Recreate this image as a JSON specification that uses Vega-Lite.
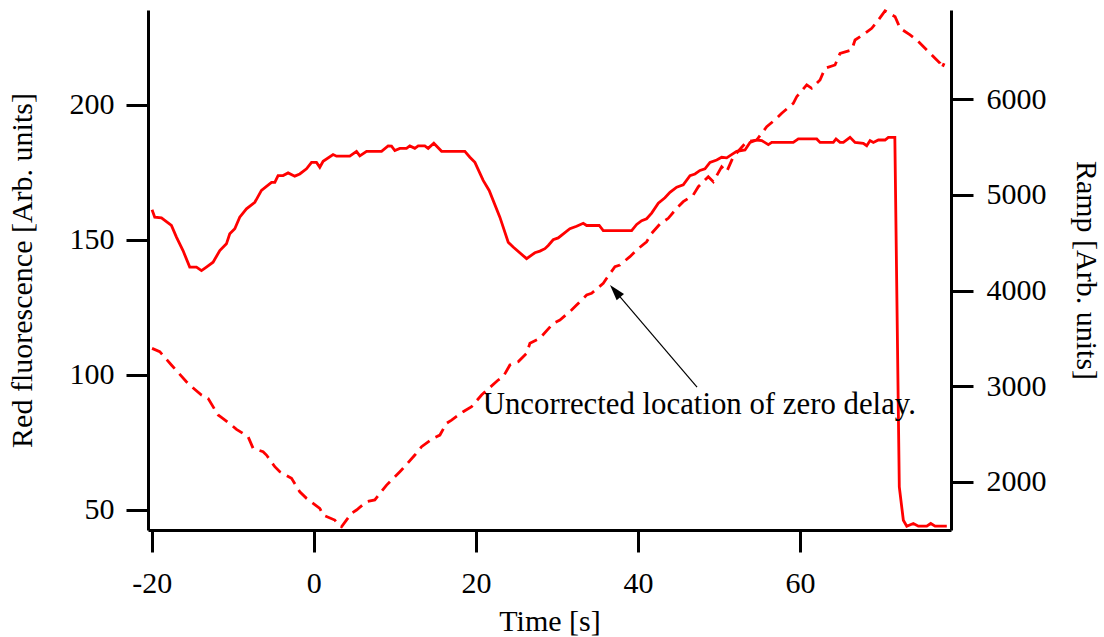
{
  "$schema": "https://vega.github.io/schema/vega-lite/v6.json",
  "width": 803,
  "height": 520,
  "autosize": {"type": "none"},
  "padding": {"left": 148, "top": 10, "right": 153, "bottom": 107},
  "background": "white",
  "config": {
    "font": "Liberation Serif",
    "view": {"stroke": null},
    "axis": {
      "domainColor": "black", "domainWidth": 3, "tickColor": "black", "tickWidth": 3, "tickSize": 22,
      "labelFontSize": 30, "titleFontSize": 30, "titleFontWeight": "normal",
      "labelColor": "black", "titleColor": "black", "grid": false,
      "labelFont": "Liberation Serif", "titleFont": "Liberation Serif", "labelFlush": false, "labelOverlap": false
    }
  },
  "datasets": {
    "fluor": [
      {"t":-19.96,"v":161.1},{"t":-19.63,"v":158.4},{"t":-18.8,"v":158.1},{"t":-17.57,"v":155.3},{"t":-16.95,"v":151.0},{"t":-16.14,"v":146.0},{"t":-15.31,"v":139.9},{"t":-14.48,"v":139.9},{"t":-13.86,"v":138.6},{"t":-13.25,"v":139.9},{"t":-12.43,"v":141.7},{"t":-11.6,"v":146.0},{"t":-10.78,"v":148.5},{"t":-10.37,"v":152.2},{"t":-9.75,"v":154.1},{"t":-9.14,"v":158.4},{"t":-8.31,"v":161.5},{"t":-7.28,"v":163.9},{"t":-6.46,"v":168.3},{"t":-5.22,"v":171.3},{"t":-4.81,"v":171.3},{"t":-4.41,"v":173.8},{"t":-3.79,"v":173.8},{"t":-3.17,"v":174.8},{"t":-2.35,"v":173.6},{"t":-1.73,"v":174.4},{"t":-0.9,"v":176.3},{"t":-0.28,"v":178.7},{"t":0.33,"v":178.7},{"t":0.74,"v":176.9},{"t":1.15,"v":179.1},{"t":2.38,"v":181.6},{"t":2.8,"v":181.0},{"t":4.44,"v":181.0},{"t":5.27,"v":182.8},{"t":5.68,"v":181.1},{"t":6.51,"v":182.8},{"t":8.36,"v":182.8},{"t":9.17,"v":184.8},{"t":9.59,"v":184.7},{"t":10.0,"v":183.1},{"t":10.62,"v":183.9},{"t":11.44,"v":183.9},{"t":11.85,"v":184.8},{"t":12.47,"v":183.9},{"t":12.88,"v":184.8},{"t":13.7,"v":184.8},{"t":14.11,"v":183.9},{"t":14.81,"v":185.8},{"t":15.77,"v":182.8},{"t":18.64,"v":182.8},{"t":19.26,"v":180.6},{"t":19.88,"v":178.7},{"t":20.9,"v":172.0},{"t":21.64,"v":168.3},{"t":22.96,"v":158.4},{"t":23.99,"v":149.1},{"t":24.6,"v":147.3},{"t":26.26,"v":143.0},{"t":27.28,"v":145.2},{"t":27.9,"v":145.8},{"t":28.52,"v":146.7},{"t":28.93,"v":147.9},{"t":29.54,"v":150.0},{"t":30.16,"v":150.7},{"t":31.6,"v":154.1},{"t":32.43,"v":155.0},{"t":33.25,"v":156.1},{"t":33.67,"v":155.3},{"t":35.22,"v":155.3},{"t":35.72,"v":153.4},{"t":39.22,"v":153.4},{"t":39.84,"v":155.7},{"t":40.46,"v":157.1},{"t":41.07,"v":157.8},{"t":41.69,"v":159.9},{"t":42.51,"v":163.6},{"t":43.33,"v":165.6},{"t":43.95,"v":167.6},{"t":44.78,"v":169.5},{"t":45.59,"v":170.4},{"t":46.42,"v":173.8},{"t":47.04,"v":174.4},{"t":47.65,"v":175.7},{"t":48.27,"v":176.3},{"t":48.89,"v":178.7},{"t":49.72,"v":179.6},{"t":50.33,"v":180.6},{"t":50.95,"v":180.4},{"t":51.36,"v":181.2},{"t":52.18,"v":182.8},{"t":53.21,"v":183.3},{"t":53.83,"v":186.1},{"t":54.65,"v":187.0},{"t":55.27,"v":186.8},{"t":56.09,"v":185.3},{"t":56.51,"v":186.1},{"t":59.17,"v":186.1},{"t":59.79,"v":187.4},{"t":62.06,"v":187.4},{"t":62.47,"v":186.1},{"t":64.11,"v":186.1},{"t":64.44,"v":187.4},{"t":64.94,"v":186.1},{"t":65.35,"v":186.1},{"t":66.17,"v":188.0},{"t":66.79,"v":186.1},{"t":67.81,"v":185.8},{"t":68.23,"v":184.9},{"t":68.64,"v":186.8},{"t":69.05,"v":186.1},{"t":69.67,"v":187.0},{"t":70.49,"v":187.0},{"t":70.9,"v":188.0},{"t":71.7,"v":188.0},{"t":72.25,"v":58.4},{"t":72.75,"v":46.0},{"t":73.17,"v":43.8},{"t":73.98,"v":44.8},{"t":74.6,"v":43.8},{"t":75.64,"v":43.8},{"t":76.13,"v":44.8},{"t":76.67,"v":43.8},{"t":78.11,"v":43.8}
    ],
    "ramp": [
      {"t":-19.96,"r":3395},{"t":-19.01,"r":3360},{"t":-17.57,"r":3221},{"t":-15.72,"r":3046},{"t":-15.31,"r":3011},{"t":-13.86,"r":2907},{"t":-13.05,"r":2872},{"t":-11.81,"r":2698},{"t":-11.4,"r":2674},{"t":-10.16,"r":2593},{"t":-9.54,"r":2548},{"t":-8.11,"r":2471},{"t":-7.49,"r":2349},{"t":-6.26,"r":2314},{"t":-5.84,"r":2279},{"t":-4.81,"r":2157},{"t":-4.2,"r":2105},{"t":-2.75,"r":2036},{"t":-1.73,"r":1895},{"t":-0.9,"r":1826},{"t":0.74,"r":1722},{"t":1.15,"r":1652},{"t":2.59,"r":1599},{"t":3.21,"r":1537},{"t":3.42,"r":1529},{"t":4.65,"r":1669},{"t":5.27,"r":1704},{"t":6.51,"r":1791},{"t":7.53,"r":1809},{"t":8.98,"r":1965},{"t":10.62,"r":2105},{"t":11.02,"r":2140},{"t":12.47,"r":2279},{"t":13.3,"r":2366},{"t":14.73,"r":2454},{"t":15.56,"r":2488},{"t":16.38,"r":2611},{"t":17.0,"r":2645},{"t":18.43,"r":2732},{"t":19.47,"r":2785},{"t":20.7,"r":2907},{"t":22.75,"r":3064},{"t":23.37,"r":3098},{"t":24.2,"r":3221},{"t":25.22,"r":3255},{"t":26.26,"r":3343},{"t":26.67,"r":3448},{"t":27.9,"r":3500},{"t":29.54,"r":3657},{"t":30.37,"r":3691},{"t":31.81,"r":3796},{"t":32.43,"r":3848},{"t":33.67,"r":3953},{"t":34.28,"r":3971},{"t":35.72,"r":4075},{"t":36.14,"r":4128},{"t":37.16,"r":4249},{"t":37.78,"r":4267},{"t":39.01,"r":4354},{"t":39.84,"r":4424},{"t":41.07,"r":4510},{"t":41.69,"r":4598},{"t":42.72,"r":4696},{"t":43.74,"r":4755},{"t":44.78,"r":4860},{"t":45.59,"r":4929},{"t":46.83,"r":5000},{"t":47.45,"r":5086},{"t":48.68,"r":5190},{"t":49.3,"r":5138},{"t":50.33,"r":5295},{"t":50.95,"r":5243},{"t":51.77,"r":5400},{"t":53.42,"r":5556},{"t":54.65,"r":5574},{"t":55.89,"r":5713},{"t":57.12,"r":5801},{"t":57.74,"r":5854},{"t":59.17,"r":5958},{"t":59.59,"r":6027},{"t":60.83,"r":6150},{"t":61.44,"r":6115},{"t":62.47,"r":6202},{"t":63.09,"r":6324},{"t":64.32,"r":6359},{"t":64.94,"r":6481},{"t":66.38,"r":6516},{"t":66.79,"r":6620},{"t":68.02,"r":6690},{"t":68.85,"r":6743},{"t":69.67,"r":6830},{"t":70.49,"r":6925},{"t":71.73,"r":6864},{"t":72.35,"r":6743},{"t":73.58,"r":6673},{"t":74.41,"r":6620},{"t":75.64,"r":6516},{"t":76.26,"r":6463},{"t":77.28,"r":6377},{"t":77.49,"r":6324},{"t":77.78,"r":6377}
    ],
    "arrow": [{"t": 47.29, "v": 95.4, "t2": 37.19, "v2": 131.0}],
    "head": [{"t": 37.19, "v": 131.0}],
    "note": [{"t": 20.84, "v": 85.3, "label": "Uncorrected location of zero delay."}]
  },
  "layer": [
    {
      "encoding": {
        "x": {"field": "t", "type": "quantitative",
          "scale": {"domain": [-20.46, 78.63], "nice": false, "zero": false},
          "axis": {"title": "Time [s]", "values": [-20, 0, 20, 40, 60], "labelExpr": "datum.value < 0 ? '-' + abs(datum.value) : '' + datum.value", "labelPadding": 16, "titlePadding": 8}},
        "y": {"field": "v", "type": "quantitative",
          "scale": {"domain": [42.4, 235.2], "nice": false, "zero": false},
          "axis": {"title": "Red fluorescence [Arb. units]", "values": [50, 100, 150, 200], "labelPadding": 12, "titlePadding": 32}}
      },
      "layer": [
        {"data": {"name": "fluor"}, "mark": {"type": "line", "color": "#ff0000", "strokeWidth": 2.8}},
        {"data": {"name": "arrow"}, "mark": {"type": "rule", "color": "black", "strokeWidth": 1.2},
          "encoding": {"x2": {"field": "t2"}, "y2": {"field": "v2"}}},
        {"data": {"name": "head"}, "mark": {"type": "point", "shape": "M0,-1L-0.6,1L0.6,1Z", "filled": true, "color": "black", "opacity": 1, "size": 256, "angle": 320}},
        {"data": {"name": "note"}, "mark": {"type": "text", "align": "left", "baseline": "alphabetic", "fontSize": 30.8, "font": "Liberation Serif", "color": "black"},
          "encoding": {"text": {"field": "label"}}}
      ]
    },
    {
      "data": {"name": "ramp"},
      "mark": {"type": "line", "color": "#ff0000", "strokeWidth": 2.8, "strokeDash": [12, 7]},
      "encoding": {
        "x": {"field": "t", "type": "quantitative",
          "scale": {"domain": [-20.46, 78.63], "nice": false, "zero": false},
          "axis": {"title": "Time [s]", "values": [-20, 0, 20, 40, 60], "labelExpr": "datum.value < 0 ? '-' + abs(datum.value) : '' + datum.value", "labelPadding": 16, "titlePadding": 8}},
        "y": {"field": "r", "type": "quantitative",
          "scale": {"domain": [1495, 6934], "nice": false, "zero": false},
          "axis": {"orient": "right", "title": "Ramp [Arb. units]", "values": [2000, 3000, 4000, 5000, 6000], "format": "d", "labelPadding": 13, "titlePadding": 24}}
      }
    }
  ],
  "resolve": {"scale": {"y": "independent"}}
}
